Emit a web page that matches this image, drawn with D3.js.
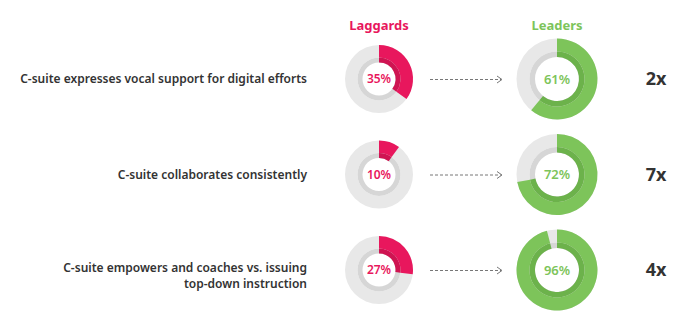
<!DOCTYPE html>
<html>
<head>
<meta charset="utf-8">
<script src="https://cdn.jsdelivr.net/npm/d3@7"></script>
<style>
  html, body { margin: 0; padding: 0; background: #fff; }
  svg { display: block; }
  text { font-family: "Noto Sans", "Open Sans", sans-serif; }
</style>
</head>
<body>
<svg id="chart" width="681" height="325"></svg>
<script>
// Survey items (one per row)
const items = [
  ["C-suite expresses vocal support for digital efforts"],
  ["C-suite collaborates consistently"],
  ["C-suite empowers and coaches vs. issuing", "top-down instruction"]
];
// Share of respondents agreeing, in percent
const laggards = [35, 10, 27];
const leaders = [61, 72, 96];
// Leader-to-laggard multiples
const multiples = ["2x", "7x", "4x"];
const groupNames = ["Laggards", "Leaders"];

const svg = d3.select("#chart");

const y = d3.scalePoint().domain(d3.range(items.length)).range([79, 270]);
const x = d3.scaleOrdinal().domain(groupNames).range([379, 557]);
const pct = d3.scaleLinear().domain([0, 100]).range([0, 2 * Math.PI]);

const styles = {
  Laggards: { main: "#e8175d", dark: "#cf1452", outer: 34, mid: 21.5, inner: 16.5, font: 12 },
  Leaders:  { main: "#7dc45a", dark: "#6cb24b", outer: 40.5, mid: 27.5, inner: 22, font: 13 }
};

// Column headings
svg.selectAll("text.head").data(groupNames).join("text")
  .attr("class", "head")
  .attr("x", d => x(d))
  .attr("y", 30)
  .attr("text-anchor", "middle")
  .attr("font-size", 13)
  .attr("font-weight", 700)
  .attr("fill", d => styles[d].main)
  .text(d => d);

function donut(g, group, value) {
  const s = styles[group];
  const outerArc = d3.arc().innerRadius(s.mid).outerRadius(s.outer).startAngle(0);
  const innerArc = d3.arc().innerRadius(s.inner).outerRadius(s.mid).startAngle(0);
  // background rings
  g.append("path").attr("d", outerArc.endAngle(2 * Math.PI)()).attr("fill", "#e8e8e8");
  g.append("path").attr("d", innerArc.endAngle(2 * Math.PI)()).attr("fill", "#d6d6d6");
  // value arcs
  g.append("path").attr("d", outerArc.endAngle(pct(value))()).attr("fill", s.main);
  g.append("path").attr("d", innerArc.endAngle(pct(value))()).attr("fill", s.dark);
  g.append("text")
    .attr("y", 0)
    .attr("dy", "0.35em")
    .attr("text-anchor", "middle")
    .attr("font-size", s.font)
    .attr("font-weight", 600)
    .attr("fill", s.main)
    .text(value + "%");
}

const rows = svg.selectAll("g.row").data(items).join("g")
  .attr("class", "row")
  .attr("transform", (d, i) => `translate(0,${y(i)})`);

rows.each(function(lines, i) {
  const row = d3.select(this);

  // row label, right aligned
  const t = row.append("text")
    .attr("x", 307)
    .attr("text-anchor", "end")
    .attr("font-size", 12)
    .attr("font-weight", 600)
    .attr("fill", "#333");
  lines.forEach((ln, k) => {
    t.append("tspan")
      .attr("x", 307)
      .attr("y", (k - (lines.length - 1) / 2) * 16 + (lines.length > 1 ? 6 : 0))
      .attr("dy", "0.35em")
      .text(ln);
  });

  donut(row.append("g").attr("transform", `translate(${x("Laggards")},0)`), "Laggards", laggards[i]);
  donut(row.append("g").attr("transform", `translate(${x("Leaders")},0)`), "Leaders", leaders[i]);

  // dashed connector arrow
  row.append("line")
    .attr("x1", 430).attr("x2", 501)
    .attr("y1", 0.5).attr("y2", 0.5)
    .attr("stroke", "#777")
    .attr("stroke-width", 1)
    .attr("stroke-dasharray", "3,2");
  row.append("path")
    .attr("d", "M497,-3 L502,0.5 L497,4")
    .attr("fill", "none")
    .attr("stroke", "#777")
    .attr("stroke-width", 1);

  row.append("text")
    .attr("x", 656)
    .attr("y", 0)
    .attr("dy", "0.35em")
    .attr("text-anchor", "middle")
    .attr("font-family", "'Liberation Sans', Arial, sans-serif")
    .attr("font-size", 18)
    .attr("font-weight", 700)
    .attr("fill", "#333")
    .text(multiples[i]);
});
</script>
</body>
</html>
